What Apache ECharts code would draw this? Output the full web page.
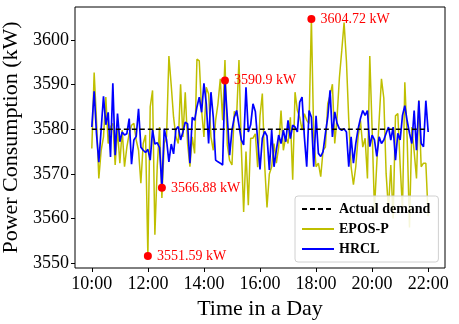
<!DOCTYPE html>
<html>
<head>
<meta charset="utf-8">
<script src="https://cdn.jsdelivr.net/npm/echarts@6/dist/echarts.min.js"></script>
<style>
html,body{margin:0;padding:0;background:#fff;}
#chart{width:459px;height:324px;}
</style>
</head>
<body>
<div id="chart"></div>
<script>
// 5-minute samples from 10:00 to 22:00
var startHour = 10;
var stepMinutes = 5;
var actualDemand = 3580;
var xTicks = [10, 12, 14, 16, 18, 20, 22];
var yTicks = [3550, 3560, 3570, 3580, 3590, 3600];

var eposP = [
    3575.7, 3592.7, 3582, 3569, 3575.3, 3578.3, 3587.2, 3576.8, 3580.5, 3581.3,
    3572, 3580, 3572.4, 3579.8, 3571.6, 3576, 3579, 3580.9, 3581.3, 3577.6,
    3575.3, 3567.9, 3576.8, 3578.7, 3551.59, 3585, 3588.7, 3556.4, 3571.6, 3580.5,
    3564.6, 3576.8, 3578.3, 3596.4, 3589.8, 3582.7, 3578.3, 3576.8, 3590.1, 3578.3,
    3588.3, 3576.8, 3571.6, 3578.3, 3574.6, 3595.7, 3595.3, 3584.2, 3578.3, 3589.4,
    3587.9, 3578.3, 3575.3, 3582, 3585.7, 3591.3, 3582, 3595.5, 3576.5, 3573,
    3572, 3584, 3583, 3595.5, 3576, 3561.5, 3575, 3563, 3578, 3578,
    3579, 3571.5, 3583, 3588, 3572, 3562.5, 3570, 3571.6, 3576.8, 3572.4,
    3576, 3584.2, 3575.3, 3578.3, 3576.8, 3582.7, 3568.7, 3588.3, 3584.2, 3582.7,
    3579.8, 3583.5, 3582, 3581.3, 3604.72, 3578.3, 3571.6, 3572.4, 3569.4, 3575.3,
    3576, 3585.7, 3587.6, 3590.1, 3576.8, 3582.7, 3591.6, 3597.6, 3603.9, 3595.3,
    3582, 3571.6, 3567.6, 3571.6, 3578.3, 3582, 3576, 3578, 3569, 3596.4,
    3580, 3562, 3572.4, 3582, 3591.3, 3587, 3570, 3562, 3572, 3560,
    3583, 3583.5, 3572, 3562, 3590.5, 3578, 3558, 3580.5, 3575, 3569,
    3586.5, 3571.6, 3572.4, 3572.4, 3560.5
];

var hrcl = [
    3580.5, 3588.5, 3579, 3572.6, 3580, 3587.4, 3581, 3583.8, 3573.8, 3590.3,
    3574.2, 3583.5, 3577.2, 3579.4, 3578.7, 3579, 3582.4, 3572.2, 3577.6, 3578.4,
    3584.6, 3576, 3575.3, 3574.8, 3575.5, 3573.1, 3579.8, 3576.7, 3577, 3575.9,
    3566.88, 3580.1, 3577.6, 3572.7, 3576.7, 3574.5, 3580, 3580.6, 3577.6, 3579.4,
    3581.6, 3581.2, 3572.4, 3582.7, 3582, 3585, 3587.2, 3583.8, 3590.3, 3585.7,
    3576.8, 3588.3, 3582.7, 3573.1, 3572.7, 3572.4, 3572, 3590.9, 3582.7, 3574.2,
    3579.8, 3582.7, 3584.2, 3580.9, 3577.6, 3576.5, 3589.4, 3579.4, 3581, 3585.7,
    3584, 3577.6, 3571, 3578, 3579.5, 3578.5, 3570.9, 3579.8, 3571.6, 3575.3,
    3578.7, 3576.8, 3579.8, 3577.2, 3582, 3577.9, 3580.9, 3580.5, 3579.4, 3586.1,
    3587.2, 3578.3, 3571.6, 3584.2, 3582.7, 3571.6, 3583, 3574.6, 3573.9, 3575,
    3579, 3582.7, 3588.7, 3578.3, 3583.9, 3581.3, 3580.1, 3579.8, 3580.1, 3579.4,
    3571.6, 3578.3, 3572.4, 3576.8, 3580.1, 3582.4, 3584.2, 3583.1, 3584.2, 3576.1,
    3578.7, 3577.6, 3573.9, 3578.3, 3576.8, 3577.6, 3579.1, 3580.5, 3577.6, 3580.5,
    3573.1, 3579.1, 3577.6, 3583.1, 3585.3, 3581.9, 3579.1, 3576.8, 3584.2, 3575.3,
    3586.4, 3576.8, 3576.1, 3586.4, 3579.4
];

var FONT = '"Liberation Serif", "DejaVu Serif", serif';

function toPairs(values){
    var out = [];
    for (var i = 0; i < values.length; i++) {
        out.push([startHour + i * stepMinutes / 60, values[i]]);
    }
    return out;
}

// annotate min / max of each model
function extremePoint(values, useMax){
    var idx = 0;
    for (var i = 1; i < values.length; i++) {
        if (useMax ? values[i] > values[idx] : values[i] < values[idx]) idx = i;
    }
    return [startHour + idx * stepMinutes / 60, values[idx]];
}
var marked = [
    extremePoint(eposP, false),
    extremePoint(hrcl, false),
    extremePoint(hrcl, true),
    extremePoint(eposP, true)
];

var demandLine = [[startHour, actualDemand], [startHour + (eposP.length - 1) * stepMinutes / 60, actualDemand]];

var myChart = echarts.init(document.getElementById('chart'));
var option = {
    backgroundColor: '#fff',
    animation: false,
    grid: {
        left: 75, right: 14, top: 7, bottom: 56,
        outerBoundsMode: 'none',
        containLabel: false,
        show: true, borderColor: '#000', borderWidth: 1
    },
    legend: {
        left: 295, top: 196,
        orient: 'vertical',
        padding: [6, 8, 6, 6],
        itemGap: 6,
        itemWidth: 32,
        itemHeight: 14,
        backgroundColor: 'rgba(255,255,255,0.85)',
        borderColor: '#d0d0d0',
        borderWidth: 1,
        borderRadius: 3,
        itemStyle: { opacity: 0, borderWidth: 0 },
        textStyle: { fontFamily: FONT, fontWeight: 'bold', fontSize: 14, color: '#000' },
        data: ['Actual demand', 'EPOS-P', 'HRCL']
    },
    xAxis: {
        type: 'value',
        min: 9.4, max: 22.6,
        name: 'Time in a Day',
        nameLocation: 'middle',
        nameGap: 23,
        nameTextStyle: { fontFamily: FONT, fontSize: 22, color: '#000' },
        axisLine: { show: false },
        axisTick: { show: true, inside: false, length: 4, customValues: xTicks, lineStyle: { color: '#000' } },
        axisLabel: {
            customValues: xTicks,
            margin: 7,
            fontFamily: FONT, fontSize: 18, color: '#000',
            formatter: function (v) { return (v < 10 ? '0' : '') + v + ':00'; }
        },
        splitLine: { show: false }
    },
    yAxis: {
        type: 'value',
        min: 3548.93, max: 3607.38,
        name: 'Power Consumption (kW)',
        nameLocation: 'middle',
        nameGap: 48,
        nameTextStyle: { fontFamily: FONT, fontSize: 22, color: '#000' },
        axisLine: { show: false },
        axisTick: { show: true, inside: false, length: 4, customValues: yTicks, lineStyle: { color: '#000' } },
        axisLabel: {
            customValues: yTicks,
            margin: 6,
            fontFamily: FONT, fontSize: 18, color: '#000',
            formatter: function (v) { return String(v); }
        },
        splitLine: { show: false }
    },
    series: [
        {
            name: 'Actual demand',
            type: 'line',
            data: demandLine,
            symbol: 'none',
            z: 4,
            lineStyle: { color: '#000', width: 1.5, type: [5, 3] },
            itemStyle: { color: '#000' }
        },
        {
            name: 'EPOS-P',
            type: 'line',
            data: toPairs(eposP),
            symbol: 'none',
            z: 2,
            lineStyle: { color: '#bfbf00', width: 1.5 },
            itemStyle: { color: '#bfbf00' }
        },
        {
            name: 'HRCL',
            type: 'line',
            data: toPairs(hrcl),
            symbol: 'none',
            z: 3,
            lineStyle: { color: '#0000ff', width: 1.7 },
            itemStyle: { color: '#0000ff' }
        },
        {
            name: 'marks',
            type: 'scatter',
            data: marked,
            symbolSize: 8,
            z: 5,
            itemStyle: { color: '#ff0000', opacity: 1 },
            label: {
                show: true,
                position: 'right',
                distance: 5,
                fontFamily: FONT, fontSize: 14, color: '#ff0000',
                formatter: function (p) { return p.value[1] + ' kW'; }
            }
        }
    ]
};
myChart.setOption(option);
</script>
</body>
</html>
